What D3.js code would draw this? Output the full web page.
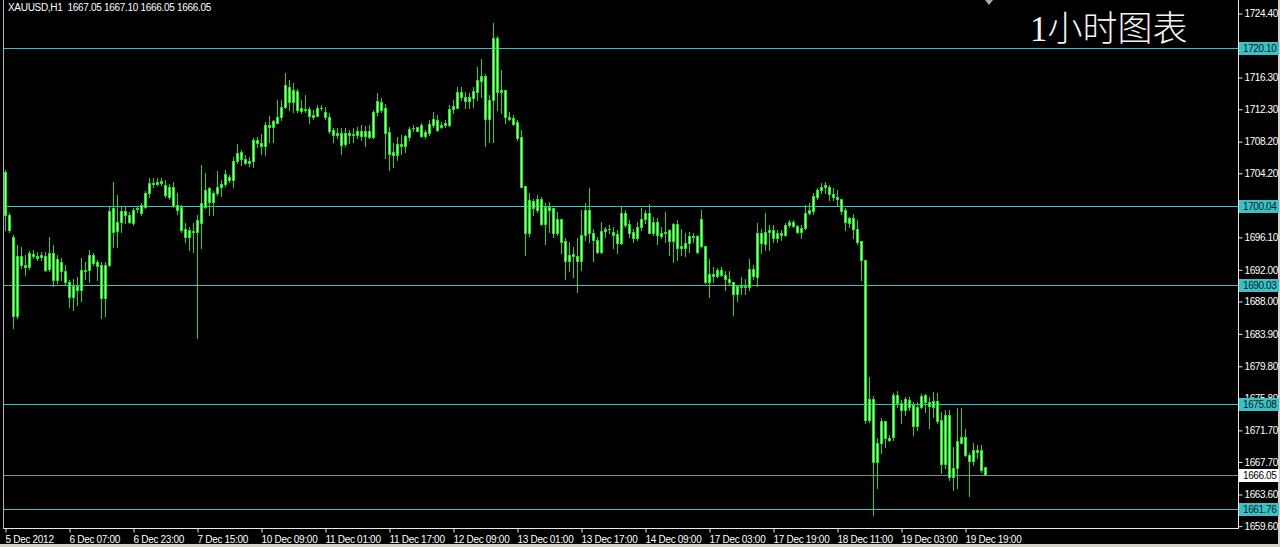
<!DOCTYPE html>
<html><head><meta charset="utf-8">
<script src="https://cdn.jsdelivr.net/npm/d3@7/dist/d3.min.js"></script>
<style>
html,body{margin:0;padding:0;background:#d4d0c8;overflow:hidden}
svg{display:block}
</style></head>
<body>
<svg id="c" width="1280" height="547"></svg>
<script>
// ---- data (XAUUSD H1) ----
const opens = [1704.4,1698.9,1696.2,1686.1,1693.7,1692.6,1692.4,1694.0,1693.7,1693.6,1693.8,1692.1,1694.1,1690.7,1693.0,1691.9,1690.5,1688.6,1689.9,1689.4,
1692.0,1692.0,1693.9,1693.0,1692.6,1688.4,1692.6,1699.8,1696.9,1698.0,1699.4,1698.9,1697.9,1699.7,1699.2,1700.0,1701.7,1703.0,1702.9,1703.0,
1702.7,1701.2,1702.5,1700.2,1700.0,1697.1,1696.1,1696.9,1696.8,1697.9,1700.0,1702.3,1700.6,1701.7,1702.5,1702.8,1703.7,1703.3,1705.7,1706.0,
1706.0,1705.5,1705.7,1708.4,1708.0,1707.6,1710.3,1710.1,1710.6,1711.3,1712.6,1715.1,1713.2,1714.6,1712.4,1712.2,1712.3,1711.6,1711.5,1712.5,
1712.0,1711.3,1709.7,1709.1,1709.3,1707.9,1709.3,1709.2,1709.1,1709.5,1708.9,1709.5,1708.8,1711.9,1713.2,1712.4,1709.4,1706.9,1706.5,1707.9,
1707.6,1708.8,1709.9,1709.6,1710.3,1708.9,1709.3,1710.3,1711.0,1710.0,1710.3,1710.3,1712.3,1712.5,1714.5,1713.9,1713.4,1713.7,1714.5,1715.9,
1716.5,1711.1,1713.5,1721.3,1714.5,1714.7,1711.3,1711.2,1710.7,1708.8,1702.6,1696.6,1700.7,1699.6,1701.0,1697.8,1699.9,1699.8,1696.6,1698.4,
1695.7,1693.1,1694.0,1693.8,1693.1,1696.4,1699.6,1696.7,1695.8,1694.2,1696.9,1697.1,1696.8,1696.5,1695.4,1699.2,1697.8,1696.8,1696.0,1697.4,
1698.4,1699.2,1696.7,1698.1,1696.3,1696.6,1697.0,1695.7,1697.8,1694.7,1694.8,1695.4,1696.3,1694.3,1698.4,1695.0,1690.5,1691.5,1691.2,1692.0,
1691.4,1690.9,1690.4,1689.0,1689.9,1689.8,1689.8,1692.1,1691.1,1696.6,1695.3,1696.8,1697.0,1696.0,1696.6,1696.4,1697.7,1697.6,1697.5,1696.8,
1697.3,1699.2,1699.4,1701.2,1702.1,1702.5,1702.5,1701.6,1701.2,1701.0,1699.6,1697.9,1698.6,1697.2,1695.7,1693.2,1673.0,1675.7,1667.7,1670.1,
1672.9,1670.7,1670.9,1676.2,1675.1,1674.3,1675.5,1674.9,1672.2,1674.7,1676.2,1675.3,1674.7,1675.4,1673.0,1667.5,1673.6,1665.8,1666.9,1670.1,
1670.9,1668.6,1667.8,1669.2,1669.2,1667.05];
const highs = [1704.6,1699.2,1696.4,1695.1,1694.9,1693.9,1694.4,1694.5,1694.2,1694.2,1694.2,1696.2,1695.1,1693.9,1693.5,1692.6,1690.7,1690.9,1691.1,1693.5,
1693.0,1694.5,1694.1,1693.2,1693.0,1693.0,1700.0,1703.1,1701.5,1700.0,1700.0,1699.3,1699.8,1700.0,1700.4,1701.9,1703.6,1703.6,1703.6,1703.6,
1703.3,1702.9,1703.1,1701.7,1700.2,1697.9,1697.4,1697.9,1698.9,1705.2,1704.2,1702.5,1701.9,1704.5,1703.3,1704.6,1704.0,1706.3,1707.9,1707.1,
1706.5,1706.3,1708.6,1708.8,1709.2,1710.7,1711.4,1710.9,1713.5,1713.5,1716.9,1716.0,1715.6,1714.8,1713.5,1714.1,1712.6,1712.2,1712.8,1712.8,
1712.6,1711.8,1709.9,1709.9,1709.9,1709.9,1709.7,1709.9,1710.1,1710.3,1710.2,1710.3,1712.2,1714.3,1713.7,1713.0,1710.1,1708.0,1708.8,1709.0,
1709.0,1710.1,1710.3,1710.1,1710.5,1709.7,1710.9,1712.0,1711.6,1710.7,1711.0,1712.8,1713.5,1715.1,1715.1,1714.5,1714.3,1715.1,1717.7,1718.7,
1716.8,1714.1,1723.2,1721.6,1717.3,1714.7,1712.0,1711.6,1710.9,1709.7,1702.6,1701.7,1701.0,1701.5,1701.2,1700.4,1700.6,1699.8,1699.3,1698.4,
1696.0,1695.5,1694.9,1696.0,1699.6,1700.5,1702.3,1697.2,1696.2,1698.1,1697.4,1697.7,1697.4,1697.0,1700.0,1699.6,1698.3,1697.1,1698.1,1699.8,
1699.6,1700.3,1698.7,1698.6,1697.4,1699.3,1697.2,1697.9,1698.3,1697.1,1696.6,1696.8,1696.6,1696.4,1699.6,1695.0,1693.4,1692.4,1692.2,1692.4,
1691.8,1691.8,1690.5,1690.1,1691.1,1690.9,1693.4,1692.6,1697.9,1697.2,1699.2,1697.7,1697.7,1697.0,1697.0,1697.9,1698.3,1698.3,1697.7,1697.7,
1700.2,1700.4,1701.7,1702.3,1703.0,1703.1,1702.7,1702.3,1702.1,1701.0,1699.8,1698.7,1699.1,1698.3,1695.7,1693.2,1678.5,1676.0,1670.7,1673.3,
1672.9,1671.1,1676.4,1676.7,1675.5,1675.9,1675.9,1675.3,1675.3,1676.3,1676.3,1675.9,1676.5,1676.4,1674.0,1674.3,1674.3,1669.6,1674.5,1674.5,
1671.9,1668.8,1670.1,1669.9,1669.8,1667.10];
const lows = [1697.0,1696.8,1684.6,1685.9,1692.2,1691.3,1692.1,1693.5,1693.2,1693.2,1691.8,1691.8,1689.9,1690.3,1690.7,1690.1,1687.3,1686.9,1687.5,1688.0,
1690.9,1690.5,1692.6,1690.7,1685.9,1686.1,1692.5,1694.9,1694.9,1696.8,1697.9,1697.9,1697.7,1699.3,1698.9,1699.8,1701.2,1702.5,1702.7,1702.7,
1701.2,1701.0,1700.0,1699.1,1696.8,1695.5,1694.5,1694.3,1683.4,1694.7,1699.8,1698.9,1698.9,1701.4,1701.3,1702.6,1703.1,1702.5,1705.5,1705.2,
1705.4,1705.1,1705.0,1707.5,1706.7,1706.5,1708.1,1708.1,1710.5,1710.9,1712.4,1712.2,1712.0,1712.0,1711.8,1711.9,1710.5,1711.1,1711.4,1712.2,
1711.1,1709.3,1708.2,1708.6,1706.7,1707.6,1708.0,1708.2,1708.6,1708.4,1707.6,1708.6,1708.6,1711.6,1712.0,1706.1,1704.6,1705.0,1705.9,1706.7,
1706.9,1708.4,1709.5,1709.5,1708.8,1708.6,1709.0,1710.1,1709.5,1709.9,1710.1,1710.2,1711.8,1712.4,1713.5,1712.4,1712.5,1712.6,1713.5,1713.9,
1707.6,1708.2,1708.2,1712.2,1711.8,1710.5,1710.9,1710.3,1708.4,1702.5,1693.9,1696.3,1698.9,1699.3,1697.7,1695.3,1696.8,1696.2,1696.4,1694.1,
1690.9,1691.8,1691.1,1689.2,1692.0,1695.8,1695.5,1693.1,1694.1,1694.1,1696.2,1696.6,1694.8,1694.1,1695.3,1697.4,1696.2,1695.5,1695.8,1697.0,
1697.9,1696.6,1696.4,1695.3,1696.0,1695.5,1693.9,1693.0,1693.2,1693.9,1693.7,1694.3,1695.5,1694.1,1694.9,1690.3,1688.6,1690.5,1691.1,1691.2,
1689.4,1690.1,1686.3,1688.0,1689.0,1688.9,1689.4,1690.9,1690.0,1694.1,1694.5,1694.5,1695.5,1695.5,1695.8,1696.3,1697.4,1697.4,1696.6,1696.0,
1697.2,1699.0,1699.1,1701.0,1701.7,1701.7,1700.8,1700.8,1700.2,1699.1,1697.0,1697.4,1696.0,1695.3,1690.7,1672.6,1672.8,1661.0,1664.4,1668.8,
1669.6,1670.3,1670.5,1674.7,1672.6,1673.6,1674.3,1671.1,1671.7,1674.5,1674.0,1672.0,1673.4,1672.6,1666.3,1666.9,1665.4,1664.2,1664.4,1670.1,
1668.4,1663.4,1667.3,1668.2,1666.5,1666.05];
const closes = [1698.9,1697.0,1686.1,1693.7,1692.6,1692.4,1694.1,1693.7,1693.5,1693.9,1692.0,1694.1,1690.7,1693.4,1691.9,1690.5,1688.6,1689.9,1689.4,1692.0,
1691.9,1693.9,1692.9,1692.5,1688.4,1692.6,1699.4,1696.8,1698.0,1699.4,1698.9,1698.0,1699.6,1699.8,1700.2,1701.7,1703.0,1702.8,1703.1,1703.2,
1701.5,1702.5,1700.1,1699.6,1697.0,1696.2,1697.0,1696.8,1698.3,1700.5,1702.1,1700.6,1701.7,1702.5,1702.8,1704.1,1703.3,1705.8,1706.8,1706.9,
1705.5,1705.8,1708.4,1708.0,1707.6,1710.3,1710.1,1710.8,1711.3,1712.6,1715.4,1713.2,1714.7,1712.2,1712.1,1712.3,1711.4,1711.3,1712.4,1712.5,
1711.3,1709.5,1709.0,1709.3,1707.8,1709.3,1709.0,1709.1,1709.5,1708.9,1709.5,1708.8,1712.0,1713.3,1712.2,1709.3,1706.7,1706.5,1707.9,1707.6,
1708.9,1709.8,1709.9,1710.0,1708.9,1709.4,1710.4,1711.1,1709.7,1710.3,1710.6,1712.3,1712.7,1714.5,1713.8,1713.4,1713.8,1714.6,1716.0,1716.5,
1711.1,1713.5,1721.3,1714.5,1714.7,1711.3,1711.1,1710.4,1708.6,1702.5,1696.7,1700.8,1699.8,1701.0,1697.8,1699.9,1699.6,1696.7,1698.4,1695.5,
1693.1,1693.9,1693.8,1693.1,1696.4,1699.6,1696.6,1695.8,1694.2,1696.9,1697.1,1697.2,1696.4,1695.4,1699.2,1697.7,1696.6,1696.0,1697.4,1698.4,
1699.2,1696.7,1698.1,1696.4,1696.6,1696.8,1695.7,1697.8,1694.7,1695.0,1695.4,1696.3,1696.2,1696.3,1695.0,1690.5,1691.5,1691.2,1692.0,1691.4,
1690.9,1690.4,1689.0,1689.9,1689.8,1690.0,1692.1,1691.2,1696.6,1695.4,1696.8,1697.0,1696.0,1696.6,1696.4,1697.7,1698.1,1698.1,1696.8,1697.3,
1699.2,1699.6,1701.3,1702.1,1702.5,1702.7,1701.6,1701.2,1701.0,1699.4,1698.1,1698.6,1697.2,1695.5,1693.2,1673.0,1675.7,1667.7,1670.1,1672.9,
1670.7,1670.5,1676.2,1675.1,1674.3,1675.7,1674.7,1672.2,1674.7,1676.1,1675.3,1674.8,1675.4,1672.9,1667.5,1673.6,1665.8,1666.9,1670.3,1670.9,
1668.6,1667.8,1669.2,1669.0,1666.7,1666.05];
const timeLabels = ["5 Dec 2012","6 Dec 07:00","6 Dec 23:00","7 Dec 15:00","10 Dec 09:00","11 Dec 01:00","11 Dec 17:00","12 Dec 09:00",
"13 Dec 01:00","13 Dec 17:00","14 Dec 09:00","17 Dec 03:00","17 Dec 19:00","18 Dec 11:00","19 Dec 03:00","19 Dec 19:00"];
const timeLabelBars = [0,16,32,48,64,80,96,112,128,144,160,176,192,208,224,240];
const priceTicks = [1724.40,1716.30,1712.30,1708.20,1704.20,1696.10,1692.00,1688.00,1683.90,1679.80,1675.80,1671.70,1667.70,1663.60,1659.60];
const levelLines = [1720.10,1700.04,1690.03,1675.08,1661.76];
const lastPrice = 1666.05;
const header = "XAUUSD,H1  1667.05 1667.10 1666.05 1666.05";
const title = "1小时图表";

// ---- layout ----
const svg = d3.select("#c");
const plotL = 4, plotR = 1238, plotB = 528;
const x = d3.scaleLinear().domain([0, 245]).range([5, 985]);
const y = d3.scaleLinear().domain([1659.6, 1724.4]).range([526.1, 13.5]);
const font = "'Liberation Sans', Arial, sans-serif";

svg.append("rect").attr("x",0).attr("y",0).attr("width",1280).attr("height",544).attr("fill","#000");
svg.append("rect").attr("x",0).attr("y",544).attr("width",1280).attr("height",3).attr("fill","#d4d0c8");
svg.append("rect").attr("x",1278).attr("y",0).attr("width",2).attr("height",547).attr("fill","#d4d0c8");

const plot = svg.append("g");
plot.append("clipPath").attr("id","clip").append("rect")
  .attr("x",plotL).attr("y",0).attr("width",plotR-plotL).attr("height",plotB);
const g = plot.append("g").attr("clip-path","url(#clip)");

// horizontal level lines
const lineCol = "#3cc0c8";
g.selectAll("line.lvl").data(levelLines).join("line").attr("class","lvl")
  .attr("x1",plotL).attr("x2",plotR)
  .attr("y1",d=>Math.round(y(d))+0.5).attr("y2",d=>Math.round(y(d))+0.5)
  .attr("stroke",lineCol).attr("stroke-width",1);
g.append("line").attr("x1",plotL).attr("x2",plotR)
  .attr("y1",Math.round(y(lastPrice))+0.5).attr("y2",Math.round(y(lastPrice))+0.5)
  .attr("stroke","#8a8a8a").attr("stroke-width",1);

// candles
const bars = d3.range(opens.length).map(i=>({i,o:opens[i],h:highs[i],l:lows[i],c:closes[i]}));
const cg = g.append("g");
cg.selectAll("line.wick").data(bars).join("line").attr("class","wick")
  .attr("x1",d=>Math.round(x(d.i))+0.5).attr("x2",d=>Math.round(x(d.i))+0.5)
  .attr("y1",d=>Math.round(y(d.h))).attr("y2",d=>Math.round(y(d.l))+1)
  .attr("stroke","#22d822").attr("stroke-width",1);
cg.selectAll("rect.body").data(bars).join("rect").attr("class","body")
  .attr("x",d=>Math.round(x(d.i))-1).attr("width",3)
  .attr("y",d=>Math.round(y(Math.max(d.o,d.c))))
  .attr("height",d=>Math.max(1,Math.round(y(Math.min(d.o,d.c)))-Math.round(y(Math.max(d.o,d.c)))+1))
  .attr("fill","#22e022");
cg.selectAll("rect.inner").data(bars.filter(d=>Math.round(y(Math.min(d.o,d.c)))-Math.round(y(Math.max(d.o,d.c)))>=2))
  .join("rect").attr("class","inner")
  .attr("x",d=>Math.round(x(d.i))).attr("width",1)
  .attr("y",d=>Math.round(y(Math.max(d.o,d.c)))+1)
  .attr("height",d=>Math.round(y(Math.min(d.o,d.c)))-Math.round(y(Math.max(d.o,d.c)))-1)
  .attr("fill","#a8ffa8");

// frame
svg.append("line").attr("x1",plotR+0.5).attr("x2",plotR+0.5).attr("y1",0).attr("y2",plotB+1)
  .attr("stroke","#e8e8e8");
svg.append("line").attr("x1",plotL).attr("x2",plotR+1).attr("y1",plotB+0.5).attr("y2",plotB+0.5)
  .attr("stroke","#e8e8e8");
svg.append("line").attr("x1",plotL-0.5).attr("x2",plotL-0.5).attr("y1",0).attr("y2",plotB+1)
  .attr("stroke","#b0b0b0");

// right axis
const ay = d3.axisRight(y).tickValues(priceTicks).tickFormat(d3.format(".2f")).tickSize(4).tickPadding(2);
const gy = svg.append("g").attr("transform",`translate(${plotR+0.5},0)`).call(ay);
gy.select(".domain").remove();
gy.selectAll(".tick line").attr("stroke","#e8e8e8");
gy.selectAll(".tick text").attr("fill","#fff").attr("font-family",font).attr("font-size",10)
  .attr("letter-spacing","-0.4px");

// level labels (drawn over the axis labels, as in the platform)
const lv = svg.append("g");
levelLines.forEach(v=>{
  const yy = Math.round(y(v));
  lv.append("rect").attr("x",plotR+1).attr("y",yy-6).attr("width",40).attr("height",13).attr("fill",lineCol);
  lv.append("text").attr("x",plotR+5).attr("y",yy+4).text(d3.format(".2f")(v))
    .attr("fill","#0a1a1a").attr("font-family",font).attr("font-size",10).attr("letter-spacing","-0.4px");
});
{
  const yy = Math.round(y(lastPrice));
  lv.append("rect").attr("x",plotR+1).attr("y",yy-6).attr("width",40).attr("height",13).attr("fill","#fff");
  lv.append("text").attr("x",plotR+5).attr("y",yy+4).text(d3.format(".2f")(lastPrice))
    .attr("fill","#000").attr("font-family",font).attr("font-size",10).attr("letter-spacing","-0.4px");
}

// bottom axis
const ax = d3.axisBottom(x).tickValues(timeLabelBars).tickFormat((d,k)=>timeLabels[k]).tickSize(4).tickPadding(3);
const gx = svg.append("g").attr("transform",`translate(0.5,${plotB+0.5})`).call(ax);
gx.select(".domain").remove();
gx.selectAll(".tick line").attr("stroke","#e8e8e8");
gx.selectAll(".tick text").attr("fill","#fff").attr("font-family",font).attr("font-size",10)
  .attr("text-anchor","start").attr("dx",-0.5).attr("letter-spacing","-0.3px");

// header text
svg.append("text").attr("x",8).attr("y",11).text(header)
  .style("white-space","pre")
  .attr("fill","#fff").attr("font-family",font).attr("font-size",10).attr("letter-spacing","-0.3px");

// title
svg.append("text").attr("x",1030).attr("y",41).text(title)
  .attr("fill","#f4f4f4").attr("font-family","'Liberation Serif','Noto Sans CJK SC',serif")
  .attr("font-size",35).attr("font-weight",300);

// chart shift marker
svg.append("path").attr("d","M985,0 L993,0 L989,5 Z").attr("fill","#a8a8b0");
</script>
</body></html>
